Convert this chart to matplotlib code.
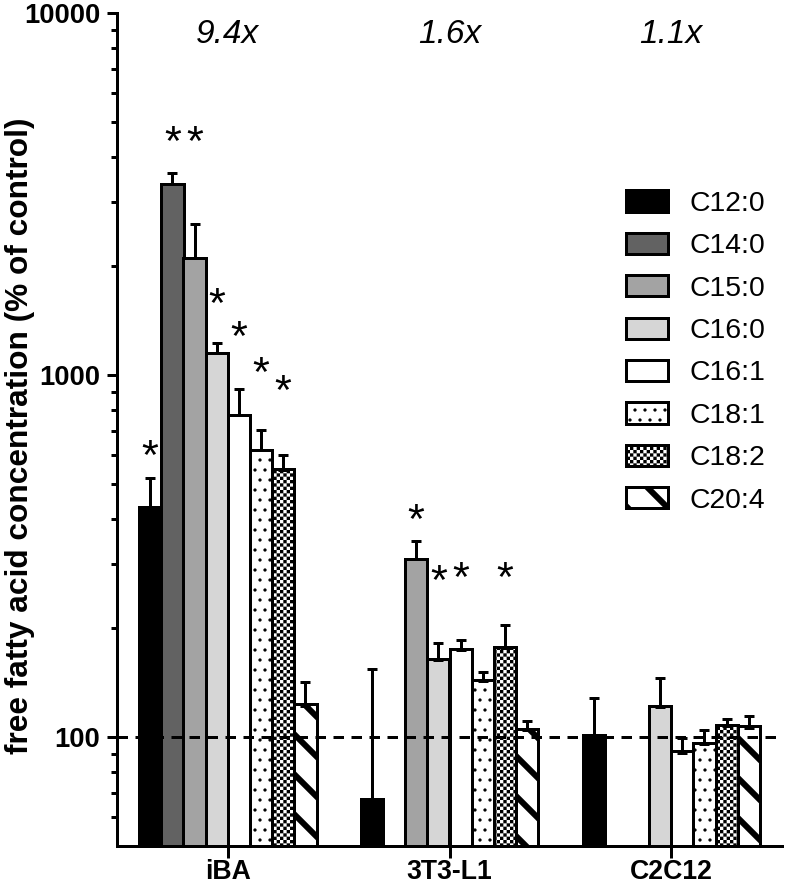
import numpy as np
import matplotlib
matplotlib.use("Agg")
import matplotlib.pyplot as plt
import matplotlib.hatch as mhatch
import matplotlib.transforms as mtransforms
from matplotlib.path import Path
from matplotlib.ticker import FixedLocator, FixedFormatter, NullFormatter

# ---------------- data ----------------
groups = ["iBA", "3T3-L1", "C2C12"]
series = ["C12:0", "C14:0", "C15:0", "C16:0", "C16:1", "C18:1", "C18:2", "C20:4"]
nan = np.nan

# mean values (% of control) per series for iBA, 3T3-L1, C2C12
c12_0 = [430, 66.5, 100.5]
c14_0 = [3370, nan, nan]
c15_0 = [2110, 310, nan]
c16_0 = [1150, 163, 121]
c16_1 = [775, 174, 90.5]
c18_1 = [620, 143, 95.5]
c18_2 = [548, 176, 107]
c20_4 = [122, 104.5, 106]

# upper error (SEM)
err_c12_0 = [88, 88, 28]
err_c14_0 = [240, nan, nan]
err_c15_0 = [510, 38, nan]
err_c16_0 = [75, 19, 25]
err_c16_1 = [140, 11, 9]
err_c18_1 = [84, 8, 9]
err_c18_2 = [55, 28, 5]
err_c20_4 = [20, 6, 8]

fold_labels = ["9.4x", "1.6x", "1.1x"]

# significance stars: group index, series index, y position
star_group = [0, 0, 0, 0, 0, 0, 0, 1, 1, 1, 1]
star_series = [0, 1, 2, 3, 4, 5, 6, 2, 3, 4, 6]
star_y = [626, 4600, 4600, 1640, 1330, 1056, 942, 417, 282, 287, 287]

control_level = 100
yticks_major = [100, 1000, 10000]
ytick_labels = ["100", "1000", "10000"]

means = [c12_0, c14_0, c15_0, c16_0, c16_1, c18_1, c18_2, c20_4]
errs = [err_c12_0, err_c14_0, err_c15_0, err_c16_0, err_c16_1,
        err_c18_1, err_c18_2, err_c20_4]

# ---------------- custom checkerboard hatch (replaces '*') ----------------
class CheckerHatch(mhatch.HatchPatternBase):
    def __init__(self, hatch, density):
        self.n = int(hatch.count("*") * density)
        self.num_vertices = (self.n * self.n // 2) * 5 if self.n else 0

    def set_vertices_and_codes(self, vertices, codes):
        n = self.n
        s = 1.0 / n
        k = 0
        for i in range(n):
            for j in range(n):
                if (i + j) % 2 == 0:
                    x0, y0 = i * s, j * s
                    vertices[k:k + 5] = [[x0, y0], [x0 + s, y0], [x0 + s, y0 + s],
                                         [x0, y0 + s], [x0, y0]]
                    codes[k:k + 5] = [Path.MOVETO, Path.LINETO, Path.LINETO,
                                      Path.LINETO, Path.CLOSEPOLY]
                    k += 5


mhatch._hatch_types = [CheckerHatch if t is mhatch.Stars else t
                       for t in mhatch._hatch_types]

# ---------------- style ----------------
plt.rcParams["font.family"] = ["Liberation Sans", "DejaVu Sans"]
DPI = 120
LW = 1.8

facecolors = ["#000000", "#626262", "#a3a3a3", "#d6d6d6",
              "#ffffff", "#ffffff", "#ffffff", "#ffffff"]
hatches = [None, None, None, None, None, "..", "******", "\\"]
hatch_lw = [1.0, 1.0, 1.0, 1.0, 1.0, 0.75, 0.01, 3.6]

fig = plt.figure(figsize=(791 / DPI, 888 / DPI), dpi=DPI)
ax = fig.add_axes([117 / 791, 1 - 846 / 888, (782 - 117) / 791, (846 - 13) / 888])

gpos = np.arange(len(groups))
width = 0.1
n = len(series)

containers = []
for i in range(n):
    vals = np.array(means[i], dtype=float)
    e = np.array(errs[i], dtype=float)
    mask = ~np.isnan(vals)
    x = gpos + (i - (n - 1) / 2) * width
    bc = ax.bar(x[mask], vals[mask], width=width, bottom=1, log=True,
                color=facecolors[i], edgecolor="black", linewidth=LW,
                hatch=hatches[i], zorder=2, label=series[i])
    for p in bc.patches:
        if hasattr(p, "set_hatch_linewidth"):
            p.set_hatch_linewidth(hatch_lw[i])
    containers.append(bc)
    ax.errorbar(x[mask], vals[mask], yerr=[np.zeros(mask.sum()), e[mask]],
                fmt="none", ecolor="black", elinewidth=LW, capsize=3,
                capthick=LW, zorder=3)

ax.axhline(control_level, color="black", linewidth=LW, linestyle=(0, (3.5, 2.5)),
           zorder=4)

ax.set_yscale("log")
ax.set_ylim(50, 10000)
ax.set_xlim(-0.5, 2.5)

minor = [m * 10 ** d for d in range(1, 4) for m in range(2, 10)
         if 50 < m * 10 ** d < 10000]
ax.yaxis.set_major_locator(FixedLocator(yticks_major))
ax.yaxis.set_major_formatter(FixedFormatter(ytick_labels))
ax.yaxis.set_minor_locator(FixedLocator(minor))
ax.yaxis.set_minor_formatter(NullFormatter())

ax.set_xticks(gpos)
ax.set_xticklabels(groups)

for s in ["top", "right"]:
    ax.spines[s].set_visible(False)
for s in ["left", "bottom"]:
    ax.spines[s].set_linewidth(LW)

ax.tick_params(axis="y", which="major", length=6, width=LW, labelsize=16.5, pad=4)
ax.tick_params(axis="y", which="minor", length=3.5, width=LW)
ax.tick_params(axis="x", which="major", length=7, width=LW, labelsize=16, pad=1)
for lab in ax.get_yticklabels() + ax.get_xticklabels():
    lab.set_fontweight("bold")

ax.set_ylabel("free fatty acid concentration (% of control)", fontsize=19,
              fontweight="bold")
ax.yaxis.set_label_coords(-0.124, 0.493)

# fold-change labels on top
trans = mtransforms.blended_transform_factory(ax.transData, ax.transAxes)
for g, lab in zip(gpos, fold_labels):
    ax.text(g, 0.964, lab, transform=trans, ha="center", va="baseline",
            fontsize=20, style="italic")

# stars
for g, si, yv in zip(star_group, star_series, star_y):
    xs = g + (si - (n - 1) / 2) * width
    ax.annotate("*", xy=(xs, yv), xytext=(0, -12), textcoords="offset points",
                ha="center", va="baseline", fontsize=26, zorder=5)

leg = ax.legend(handles=containers, labels=series, loc="upper left",
                bbox_to_anchor=(0.765, 0.787), frameon=False, fontsize=17,
                handlelength=1.48, handleheight=0.78, handletextpad=0.78,
                labelspacing=0.56, borderpad=0, borderaxespad=0)
for i, h in enumerate(leg.legend_handles):
    if hasattr(h, "set_hatch_linewidth"):
        h.set_hatch_linewidth(hatch_lw[i])

fig.savefig("out.png", dpi=DPI)
